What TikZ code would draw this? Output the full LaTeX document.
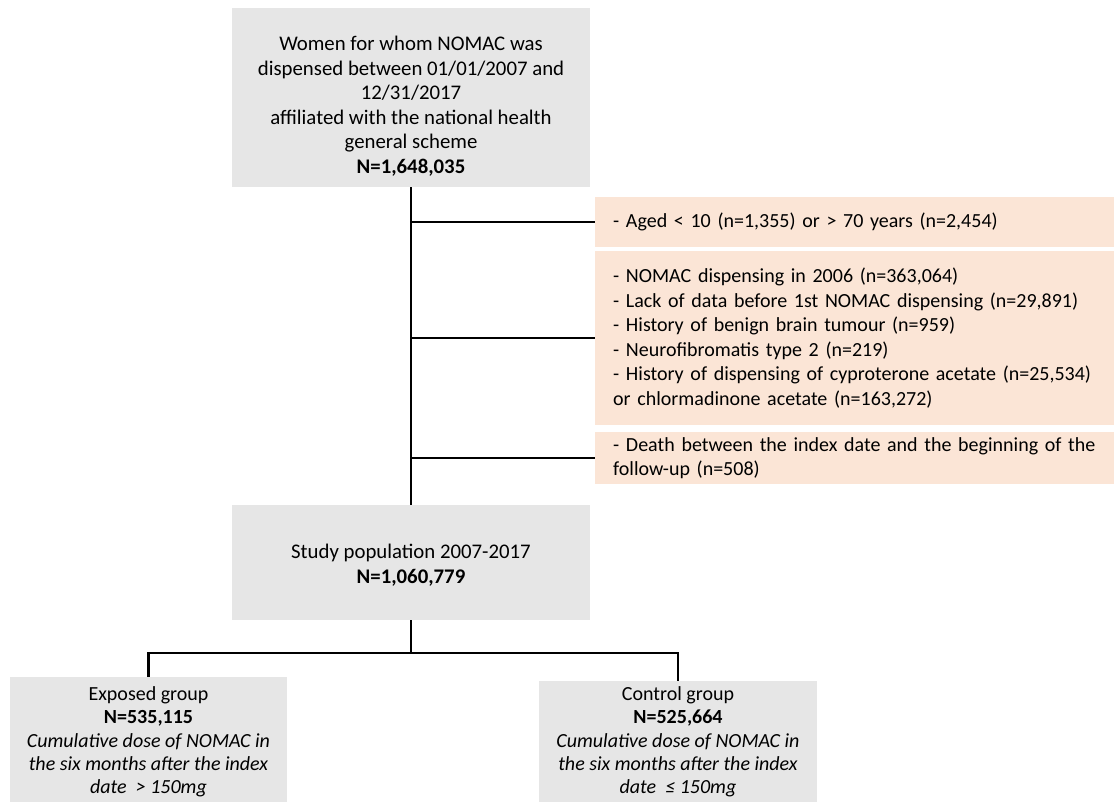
\documentclass[tikz,border=0pt]{standalone}
\usepackage{fontspec}
\setmainfont{Carlito}
\definecolor{boxgray}{HTML}{E6E6E6}
\definecolor{boxpeach}{HTML}{FBE5D6}
\tikzset{
  graybox/.style={fill=boxgray, draw=none, inner sep=0pt},
  peachbox/.style={fill=boxpeach, draw=none, inner ysep=0pt, inner xsep=18pt, text width=489pt, align=left, anchor=west, font=\fontsize{20}{24.5}\selectfont},
  txt/.style={align=center, inner sep=0pt, font=\fontsize{20}{24.5}\selectfont},
  bigtxt/.style={txt, font=\fontsize{20.8}{24.5}\selectfont},
  grouptxt/.style={txt, font=\fontsize{20}{23.3}\selectfont},
  link/.style={draw=black, line width=2.4pt},
}
\begin{document}
\begin{tikzpicture}[x=1pt,y=-1pt]
\useasboundingbox (0,0) rectangle (1114,802);
\clip (0,0) rectangle (1114,802);
% main boxes
\node[graybox, minimum width=358pt, minimum height=179pt] (top) at (411,97.5) {};
\node[bigtxt] (toptext) at (411,106) {Women for whom NOMAC was\\dispensed between 01/01/2007 and\\12/31/2017\\affiliated with the national health\\general scheme\\\textbf{N=1,648,035}};
\node[graybox, minimum width=358pt, minimum height=115pt] (study) at (411,562.5) {};
\node[bigtxt] (studytext) at (411,565) {Study population 2007-2017\\\textbf{N=1,060,779}};
% exclusion boxes
\node[peachbox, minimum height=50pt] (ex1) at (595,222) {- Aged < 10 (n=1,355) or > 70 years (n=2,454)};
\node[peachbox, minimum height=174pt] (ex2) at (595,338) {- NOMAC dispensing in 2006 (n=363,064)\\- Lack of data before 1st NOMAC dispensing (n=29,891)\\- History of benign brain tumour (n=959)\\- Neurofibromatis type 2 (n=219)\\- History of dispensing of cyproterone acetate (n=25,534)\\or chlormadinone acetate (n=163,272)};
\node[peachbox, minimum height=52pt] (ex3) at (595,458) {- Death between the index date and the beginning of the\\follow-up (n=508)};
% groups
\node[graybox, minimum width=277pt, minimum height=140pt] (exposed) at (148.5,747) {};
\node[grouptxt] (exptext) at (148.5,742) {Exposed group\\\textbf{N=535,115}\\\textit{Cumulative dose of NOMAC in}\\\textit{the six months after the index}\\\textit{date\ \ > 150mg}};
\node[graybox, minimum width=278pt, minimum height=140pt] (control) at (678,751) {};
\node[grouptxt] (context) at (678,742) {Control group\\\textbf{N=525,664}\\\textit{Cumulative dose of NOMAC in}\\\textit{the six months after the index}\\\textit{date\ \ ≤ 150mg}};
% connectors
\draw[link] (top.south) -- (study.north);
\draw[link] (ex1.west -| top.south) -- (ex1.west);
\draw[link] (ex2.west -| top.south) -- (ex2.west);
\draw[link] (ex3.west -| top.south) -- (ex3.west);
\coordinate (split) at (411,653);
\draw[link] (study.south) -- (split);
\draw[link] (exposed.north) |- (split) -| (control.north);
\end{tikzpicture}
\end{document}
